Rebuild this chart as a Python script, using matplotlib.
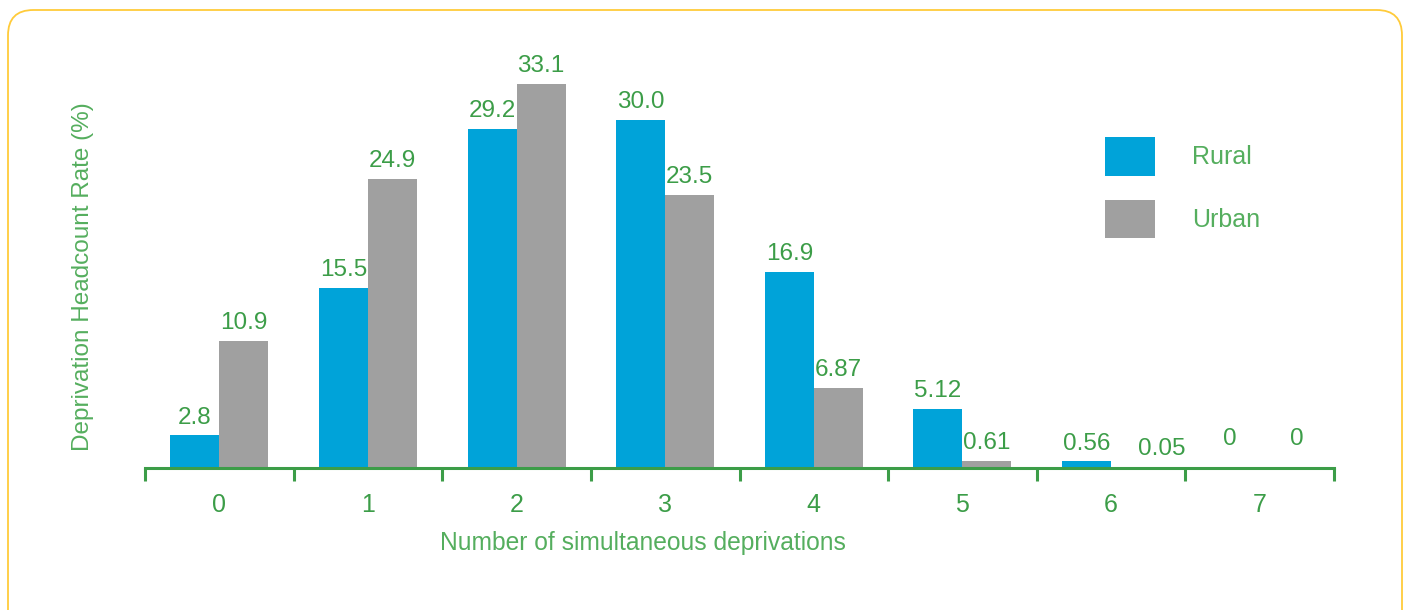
import numpy as np
import matplotlib
matplotlib.use('Agg')
import matplotlib.pyplot as plt
from matplotlib.patches import FancyBboxPatch

categories = ['0', '1', '2', '3', '4', '5', '6', '7']
rural = [2.8, 15.5, 29.2, 30.0, 16.9, 5.12, 0.56, 0]
urban = [10.9, 24.9, 33.1, 23.5, 6.87, 0.61, 0.05, 0]
rural_labels = ['2.8', '15.5', '29.2', '30.0', '16.9', '5.12', '0.56', '0']
urban_labels = ['10.9', '24.9', '33.1', '23.5', '6.87', '0.61', '0.05', '0']

BLUE = '#00A3D9'
GREY = '#A0A0A0'
GREEN = '#3C9D48'
LIGHT_GREEN = '#55AE5E'

plt.rcParams['font.family'] = ['Liberation Sans', 'DejaVu Sans']

fig = plt.figure(figsize=(14.08, 6.10), dpi=100)
W, H = 1408, 610
ax = fig.add_axes([145 / W, (H - 468) / H, (1334 - 145) / W, 418 / H])

x = np.arange(len(categories))
w = 0.33
ax.bar(x - w / 2, rural, w, color=BLUE, label='Rural')
ax.bar(x + w / 2, urban, w, color=GREY, label='Urban')

# small label nudges (points) so the tiny values don't collide
rural_nudge = {7: (-4, 8)}
urban_nudge = {6: (19, 0), 7: (9, 8)}

for i, (xi, v, s) in enumerate(zip(x, rural, rural_labels)):
    dx, dy = rural_nudge.get(i, (0, 0))
    ax.annotate(s, (xi - w / 2, v), xytext=(dx, 5 + dy), textcoords='offset points',
                ha='center', va='bottom', color=GREEN, fontsize=17.5)
for i, (xi, v, s) in enumerate(zip(x, urban, urban_labels)):
    dx, dy = urban_nudge.get(i, (0, 0))
    ax.annotate(s, (xi + w / 2, v), xytext=(dx, 5 + dy), textcoords='offset points',
                ha='center', va='bottom', color=GREEN, fontsize=17.5)

ax.set_xlim(-0.5, len(categories) - 0.5)
ax.set_ylim(0, 36)
ax.set_yticks([])
for s in ['top', 'right', 'left']:
    ax.spines[s].set_visible(False)
ax.spines['bottom'].set_color(GREEN)
ax.spines['bottom'].set_linewidth(2.2)

ax.set_xticks(x)
ax.set_xticklabels(categories, color=GREEN, fontsize=18)
ax.tick_params(axis='x', which='major', length=0, pad=18)
ax.set_xticks(np.arange(-0.5, len(categories)), minor=True)
ax.tick_params(axis='x', which='minor', length=9, width=2.2, color=GREEN)

ax.set_xlabel('Number of simultaneous deprivations', color=LIGHT_GREEN, fontsize=17.7)
ax.xaxis.set_label_coords((643 - 145) / (1334 - 145), -(543 - 468) / 418)
ax.set_ylabel('Deprivation Headcount Rate (%)', color=LIGHT_GREEN, fontsize=17.5)
ax.yaxis.set_label_coords(-(145 - 83) / (1334 - 145), (468 - 277) / 418)
ax.yaxis.label.set_va('center')
ax.xaxis.label.set_va('center')

ax.legend(loc='upper left', bbox_to_anchor=(1085 / W, (H - 117) / H),
          bbox_transform=fig.transFigure, frameon=False, fontsize=18,
          labelcolor=LIGHT_GREEN, handlelength=2.0, handleheight=2.0,
          handletextpad=1.5, labelspacing=0.96, borderpad=0.3)

border = FancyBboxPatch((8 / W, -0.1), (1402 - 8) / W, 600 / H + 0.1,
                        boxstyle='round,pad=0,rounding_size=0.018',
                        transform=fig.transFigure, fill=False,
                        edgecolor='#FFCB3A', linewidth=1.3,
                        mutation_aspect=W / H)
fig.patches.append(border)

fig.savefig('out.png', dpi=100)
